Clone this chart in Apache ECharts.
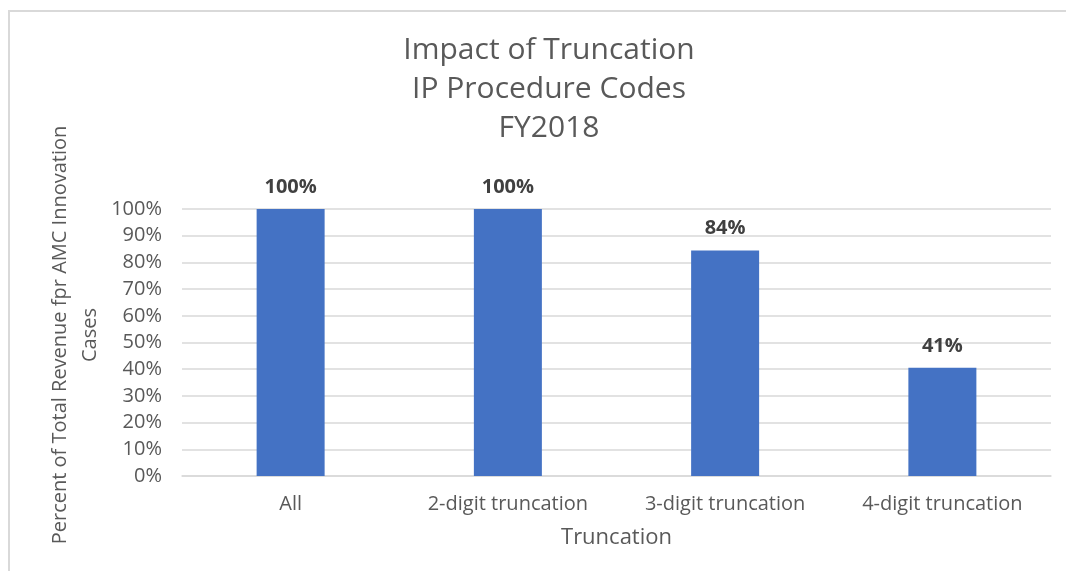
<!DOCTYPE html>
<html>
<head>
<meta charset="utf-8">
<script src="https://cdn.jsdelivr.net/npm/echarts@6/dist/echarts.min.js"></script>
<style>
  html, body { margin: 0; padding: 0; background: #fff; }
  #chart { width: 1066px; height: 571px; }
</style>
</head>
<body>
<div id="chart"></div>
<script>
// data
var categories = ['All', '2-digit truncation', '3-digit truncation', '4-digit truncation'];
var values = [100, 100, 84.5, 40.5];
var labels = ['100%', '100%', '84%', '41%'];

var font = '"Open Sans", "Noto Sans", sans-serif';
var chart = echarts.init(document.getElementById('chart'));

var option = {
  animation: false,
  backgroundColor: '#fff',
  title: {
    text: 'Impact of Truncation\nIP Procedure Codes\nFY2018',
    left: 544,
    textAlign: 'center',
    top: 26,
    textStyle: { fontFamily: font, fontSize: 30, fontWeight: 'normal', color: '#595959', lineHeight: 39 }
  },
  graphic: [
    { type: 'rect', shape: { x: 9, y: 11, width: 1100, height: 600 },
      style: { fill: 'none', stroke: '#d9d9d9', lineWidth: 2 } },
    { type: 'text', x: 75, y: 335, rotation: Math.PI / 2,
      style: { text: 'Percent of Total Revenue fpr AMC Innovation\nCases', fontFamily: font, fontSize: 20,
        fill: '#595959', align: 'center', verticalAlign: 'middle', lineHeight: 30 } }
  ],
  grid: { left: 182, right: 15, top: 209, bottom: 95 },
  xAxis: {
    type: 'category',
    data: categories,
    name: 'Truncation',
    nameLocation: 'middle',
    nameGap: 51,
    nameTextStyle: { fontFamily: font, fontSize: 22, color: '#595959' },
    axisLine: { lineStyle: { color: '#d9d9d9', width: 1.5 } },
    axisTick: { show: false },
    axisLabel: { fontFamily: font, fontSize: 20, color: '#595959', margin: 18 }
  },
  yAxis: {
    type: 'value',
    min: 0,
    max: 100,
    interval: 10,
    axisLine: { show: false },
    axisTick: { show: false },
    splitLine: { lineStyle: { color: '#d9d9d9', width: 1.5 } },
    axisLabel: { fontFamily: font, fontSize: 20, color: '#595959', margin: 20,
      formatter: function (v) { return v + '%'; } }
  },
  series: [{
    type: 'bar',
    data: values,
    barWidth: 68,
    itemStyle: { color: '#4472C4' },
    label: {
      show: true,
      position: 'top',
      distance: 12,
      fontFamily: font,
      fontSize: 20,
      fontWeight: 'bold',
      color: '#404040',
      formatter: function (p) { return labels[p.dataIndex]; }
    }
  }]
};
chart.setOption(option);
</script>
</body>
</html>
